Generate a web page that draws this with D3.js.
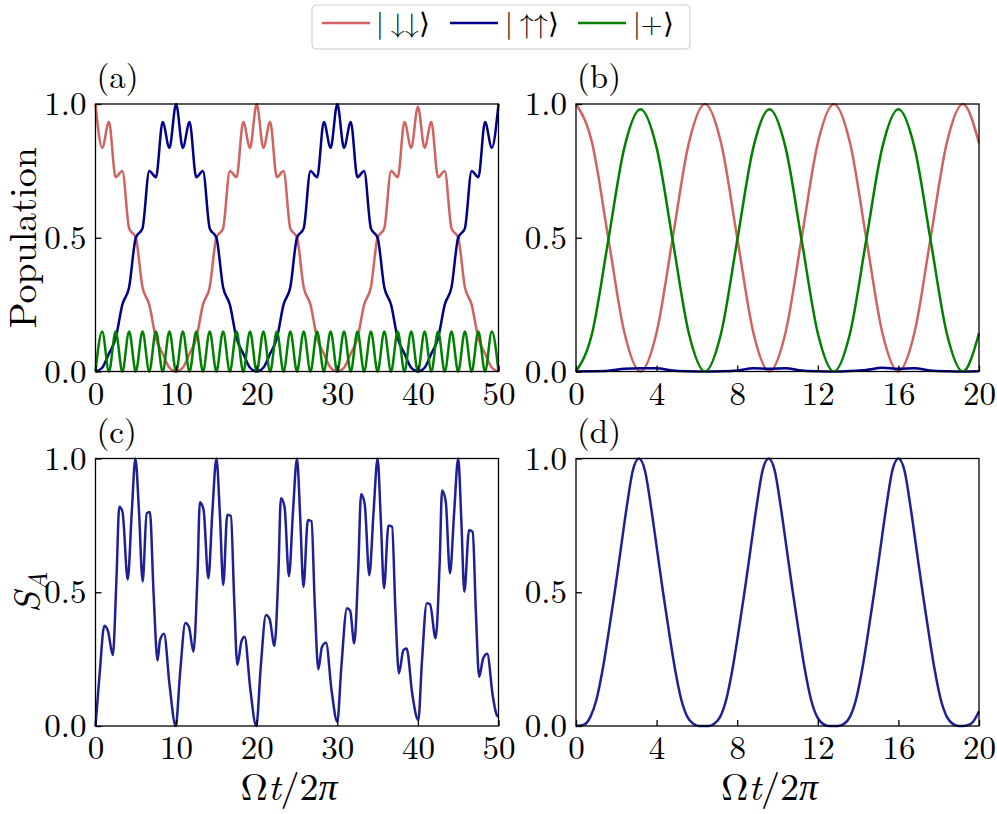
<!DOCTYPE html>
<html><head><meta charset="utf-8">
<script src="https://cdnjs.cloudflare.com/ajax/libs/d3/7.8.5/d3.min.js"></script>
<style>body{margin:0;background:#fff}</style>
</head><body><svg id="c" width="997" height="814"></svg>
<script>
// ---------- data ----------
const legendArrows = ["\u2193\u2193", "\u2191\u2191", "+"];
const xTicksA = [0, 10, 20, 30, 40, 50];
const xTicksB = [0, 4, 8, 12, 16, 20];
const yTicks = [0, 0.5, 1.0];

// panel (a)
const aT = [0,0.83,1.67,2.5,3.33,4.17,5,5.83,6.67,7.5,8.33,9.17,10,10.83,11.67,12.5,13.33,14.17,15,15.83,16.67,17.5,18.33,19.17,20,
20.83,21.67,22.5,23.33,24.17,25,25.83,26.67,27.5,28.33,29.17,30,30.83,31.67,32.5,33.33,34.17,35,35.83,36.67,37.5,38.33,39.17,40,
40.83,41.67,42.5,43.33,44.17,45,45.83,46.67,47.5,48.33,49.17,50];
const aDown = [1.000,0.836,0.933,0.726,0.750,0.535,0.500,0.315,0.250,0.124,0.067,0.014,0.000,0.014,0.067,0.124,0.250,0.315,0.500,0.535,0.750,0.726,0.933,0.836,1.000,
0.836,0.933,0.726,0.750,0.535,0.500,0.315,0.250,0.124,0.067,0.014,0.000,0.014,0.067,0.124,0.250,0.315,0.500,0.535,0.750,0.726,0.933,0.836,0.990,
0.836,0.933,0.726,0.750,0.535,0.500,0.315,0.250,0.124,0.067,0.014,0.000];
const aUp = [0.000,0.014,0.067,0.124,0.250,0.315,0.500,0.535,0.750,0.726,0.933,0.836,1.000,
0.836,0.933,0.726,0.750,0.535,0.500,0.315,0.250,0.124,0.067,0.014,0.000,0.014,0.067,0.124,0.250,0.315,0.500,0.535,0.750,0.726,0.933,0.836,1.000,
0.836,0.933,0.726,0.750,0.535,0.500,0.315,0.250,0.124,0.067,0.014,0.000,0.014,0.067,0.124,0.250,0.315,0.500,0.535,0.750,0.726,0.933,0.836,1.000];
const aPlus = [0,0.15,0,0.15,0,0.15,0,0.15,0,0.15,0,0.15,0,0.15,0,0.15,0,0.15,0,0.15,0,0.15,0,0.15,0,
0.15,0,0.15,0,0.15,0,0.15,0,0.15,0,0.15,0,0.15,0,0.15,0,0.15,0,0.15,0,0.15,0,0.15,0,
0.15,0,0.15,0,0.15,0,0.15,0,0.15,0,0.15,0];

// panel (b)
const bT = [0,0.8,1.6,2.4,3.2,4,4.8,5.6,6.4,7.2,8,8.8,9.6,10.4,11.2,12,12.8,13.6,14.4,15.2,16,16.8,17.6,18.4,19.2,20];
const bDown = [1,0.854,0.5,0.146,0,0.146,0.5,0.854,1,0.854,0.5,0.146,0,0.146,0.5,0.854,1,0.854,0.5,0.146,0,0.146,0.5,0.854,1,0.854];
const bUp = [0,0.001,0.003,0.010,0.012,0.012,0.004,0.001,0,0.001,0.004,0.012,0.010,0.012,0.004,0.001,0,0.002,0.006,0.014,0.010,0.012,0.004,0.001,0,0.001];
const bPlus = [0,0.143,0.49,0.837,0.98,0.837,0.49,0.143,0,0.143,0.49,0.837,0.98,0.837,0.49,0.143,0,0.143,0.49,0.837,0.98,0.837,0.49,0.143,0,0.143];

// panel (c)
const cT = [0,0.5,1.1,1.55,2.15,2.6,2.95,3.35,4.0,4.5,4.95,5.4,5.85,6.35,6.75,7.2,7.7,8.0,8.5,9.2,9.95,
10.5,11.15,11.6,12.15,12.65,12.95,13.4,14.0,14.5,15.0,15.45,15.85,16.35,16.8,17.2,17.6,18.1,18.5,19.2,19.95,
20.5,21.15,21.6,22.2,22.7,23.0,23.45,24.0,24.5,25.0,25.4,25.8,26.35,26.8,27.2,27.65,28.1,28.6,29.3,30.0,
30.5,31.2,31.6,32.1,32.6,32.95,33.4,33.97,34.5,35.0,35.4,35.8,36.35,36.8,37.2,37.65,38.2,38.6,39.3,40.05,
40.5,41.1,41.5,42.2,42.7,43.0,43.45,43.98,44.5,45.0,45.4,45.76,46.35,46.8,47.2,47.6,48.1,48.6,49.3,49.8,50];
const cS = [0,0.19,0.375,0.355,0.265,0.55,0.82,0.80,0.548,0.80,1.0,0.80,0.54,0.795,0.80,0.50,0.245,0.32,0.345,0.15,0.0,
0.2,0.385,0.37,0.278,0.56,0.836,0.81,0.552,0.80,1.0,0.78,0.527,0.79,0.785,0.48,0.228,0.315,0.334,0.14,0.0,
0.22,0.415,0.40,0.30,0.58,0.851,0.82,0.56,0.80,1.0,0.78,0.52,0.77,0.765,0.46,0.212,0.296,0.311,0.13,0.016,
0.22,0.44,0.43,0.309,0.59,0.867,0.83,0.564,0.80,1.0,0.77,0.515,0.75,0.745,0.44,0.197,0.284,0.29,0.12,0.022,
0.24,0.459,0.455,0.328,0.61,0.88,0.84,0.571,0.80,1.0,0.76,0.502,0.733,0.725,0.42,0.184,0.253,0.27,0.11,0.04,0.035];

// panel (d)
const dT = [0,0.4,0.72,1.02,1.32,1.62,1.92,2.22,2.52,2.82,3.12,3.42,3.72,4.02,4.32,4.62,4.92,5.22,5.52,5.82,6.1,6.6,6.86,7.16,7.46,7.76,8.06,8.36,8.66,8.96,
9.26,9.56,9.86,10.16,10.46,10.76,11.06,11.36,11.66,11.96,12.26,12.56,13.0,13.3,13.6,13.9,14.2,14.5,14.8,15.1,15.4,15.7,16.0,16.3,16.6,16.9,17.2,17.5,17.8,18.1,
18.4,18.7,19.0,19.4,19.7,20];
const dS = [0,0.005,0.035,0.10,0.21,0.35,0.50,0.66,0.82,0.955,1.0,0.955,0.82,0.66,0.50,0.35,0.21,0.10,0.035,0.008,0,0,0.008,0.035,0.10,0.21,0.35,0.50,0.66,0.82,
0.955,1.0,0.955,0.82,0.66,0.50,0.35,0.21,0.10,0.035,0.008,0,0,0.008,0.035,0.10,0.21,0.35,0.50,0.66,0.82,0.955,1.0,0.955,0.82,0.66,0.50,0.35,0.21,0.10,
0.035,0.008,0,0.002,0.015,0.055];

// ---------- styles ----------
const FONT = "'Latin Modern Roman'";
const C_RED = "#d1625f", C_BLUE = "#00008b", C_GREEN = "#008000", C_SA = "#1f1f96";

const svg = d3.select("#c");

function styleText(sel, size) {
  return sel.style("font-family", FONT).style("font-size", size + "px");
}

function panel(x0, x1, y0, y1, xDom, xTicks, series, tag) {
  const x = d3.scaleLinear().domain(xDom).range([x0, x1]);
  const y = d3.scaleLinear().domain([0, 1]).range([y1, y0]);
  const line = d3.line().x(d => x(d[0])).y(d => y(d[1])).curve(d3.curveMonotoneX);
  series.forEach(s => {
    svg.append("path").datum(d3.zip(s.t, s.v)).attr("d", line)
      .attr("fill", "none").attr("stroke", s.color).attr("stroke-width", 2.5)
      .attr("stroke-linejoin", "round");
  });
  const gx = svg.append("g").attr("transform", `translate(0,${y1})`)
    .call(d3.axisBottom(x).tickValues(xTicks).tickSizeInner(-6).tickSizeOuter(0).tickPadding(10).tickFormat(d3.format("d")));
  gx.select(".domain").remove();
  styleText(gx.selectAll("text"), 33).attr("fill", "#000");
  gx.selectAll("line").attr("stroke-width", 1.3);
  const gy = svg.append("g").attr("transform", `translate(${x0},0)`)
    .call(d3.axisLeft(y).tickValues(yTicks).tickSizeInner(-6).tickSizeOuter(0).tickPadding(9).tickFormat(d3.format(".1f")));
  gy.select(".domain").remove();
  styleText(gy.selectAll("text"), 33).attr("fill", "#000");
  gy.selectAll("line").attr("stroke-width", 1.3);
  svg.append("rect").attr("x", x0).attr("y", y0).attr("width", x1 - x0).attr("height", y1 - y0)
    .attr("fill", "none").attr("stroke", "#000").attr("stroke-width", 1.3);
  styleText(svg.append("text").attr("x", x0 + 1).attr("y", y0 - 16), 33).text(tag);
}

const L1 = 95.5, R1 = 498.5, L2 = 576, R2 = 979, T1 = 104, B1 = 371.5, T2 = 458.5, B2 = 726;

panel(L1, R1, T1, B1, [0, 50], xTicksA, [
  {t: aT, v: aDown, color: C_RED}, {t: aT, v: aUp, color: C_BLUE}, {t: aT, v: aPlus, color: C_GREEN}], "(a)");
panel(L2, R2, T1, B1, [0, 20], xTicksB, [
  {t: bT, v: bDown, color: C_RED}, {t: bT, v: bUp, color: C_BLUE}, {t: bT, v: bPlus, color: C_GREEN}], "(b)");
panel(L1, R1, T2, B2, [0, 50], xTicksA, [{t: cT, v: cS, color: C_SA}], "(c)");
panel(L2, R2, T2, B2, [0, 20], xTicksB, [{t: dT, v: dS, color: C_SA}], "(d)");

// y labels
styleText(svg.append("text").attr("transform", `translate(36,${(T1 + B1) / 2}) rotate(-90)`)
  .attr("text-anchor", "middle"), 38).text("Population");
const sa = styleText(svg.append("text").attr("transform", `translate(40,${(T2 + B2) / 2}) rotate(-90)`)
  .attr("text-anchor", "middle"), 38);
sa.append("tspan").style("font-style", "italic").text("S");
sa.append("tspan").style("font-style", "italic").style("font-size", "27px").attr("dy", 7).text("A");

// x labels
[[L1, R1], [L2, R2]].forEach(([a, b]) => {
  const t = styleText(svg.append("text").attr("x", (a + b) / 2 - 8).attr("y", 800).attr("text-anchor", "middle"), 38);
  t.append("tspan").text("\u03A9");
  t.append("tspan").style("font-style", "italic").text("t");
  t.append("tspan").text("/2");
  t.append("tspan").style("font-style", "italic").text("\u03C0");
});

// legend
svg.append("rect").attr("x", 312).attr("y", 5).attr("width", 378).attr("height", 44).attr("rx", 4)
  .attr("fill", "#fff").attr("stroke", "#cccccc").attr("stroke-width", 1);
const legColors = [C_RED, C_BLUE, C_GREEN];
const legX = [322, 450, 578];
const legTX = [376, 505, 633];
legendArrows.forEach((lab, i) => {
  svg.append("line").attr("x1", legX[i]).attr("x2", legX[i] + 48).attr("y1", 23).attr("y2", 23)
    .attr("stroke", legColors[i]).attr("stroke-width", 2.5);
  const t = styleText(svg.append("text").attr("x", legTX[i]).attr("y", 33), 28);
  t.append("tspan").text(i < 2 ? "|\u2005" : "|");
  t.append("tspan").text(lab);
  t.append("tspan").text("\u27E9");
});
</script></body></html>
